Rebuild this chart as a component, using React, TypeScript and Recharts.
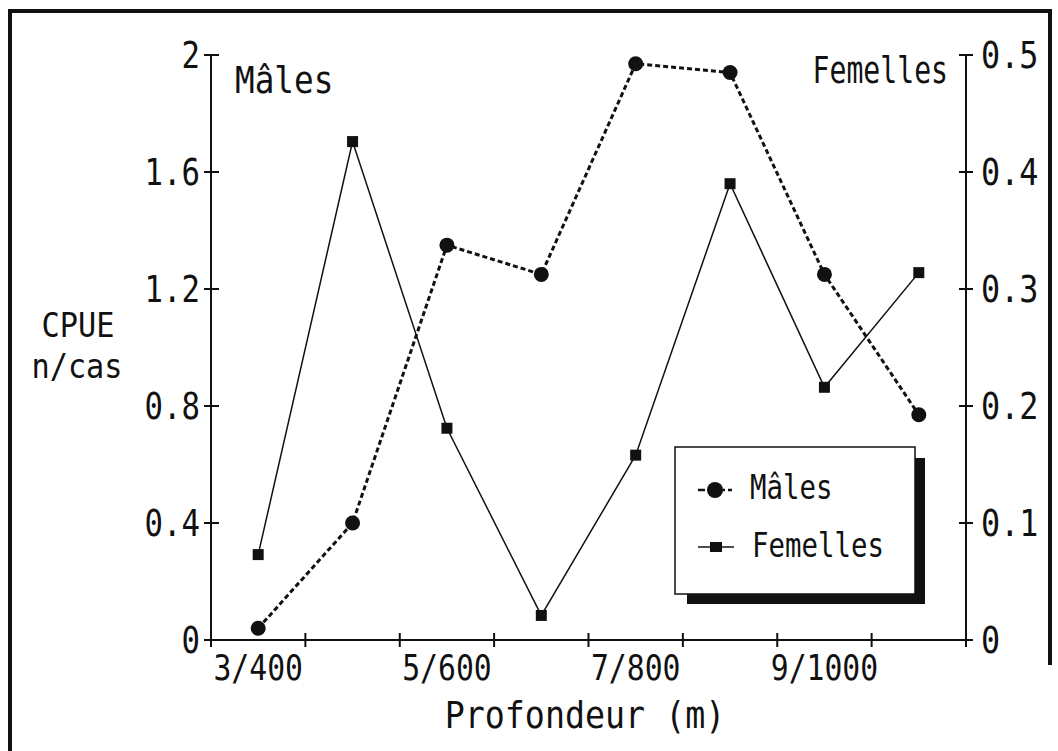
import { LineChart, Line, XAxis, YAxis } from 'recharts'

// depth classes (strate / depth in m)
const CATEGORIES = ['3/400', '4/500', '5/600', '6/700', '7/800', '8/900', '9/1000', '10/1100']
const SHOWN_LABELS = ['3/400', '', '5/600', '', '7/800', '', '9/1000', '']

// CPUE n/cas
const MALES = [0.04, 0.4, 1.35, 1.25, 1.97, 1.94, 1.25, 0.77]
const FEMELLES = [0.073, 0.426, 0.181, 0.021, 0.158, 0.39, 0.216, 0.314]

const LEFT_TICKS = [0, 0.4, 0.8, 1.2, 1.6, 2]
const RIGHT_TICKS = [0, 0.1, 0.2, 0.3, 0.4, 0.5]
const X_BOUNDS = [0, 1, 2, 3, 4, 5, 6, 7, 8]

const W = 1058
const H = 751
const PLOT_LEFT = 211
const PLOT_RIGHT = 966
const PLOT_TOP = 55
const PLOT_BOTTOM = 640
const BAND = (PLOT_RIGHT - PLOT_LEFT) / CATEGORIES.length
const INK = '#111'
const FONT = '"DejaVu Sans Mono", monospace'

const data = CATEGORIES.map((label, i) => ({
  pos: i + 0.5,
  label,
  males: MALES[i],
  femelles: FEMELLES[i],
}))

// plotter-like condensed text
function PlotText({ x, y, size, anchor = 'start', sx = 0.83, children }: {
  x: number; y: number; size: number; anchor?: 'start' | 'middle' | 'end'; sx?: number; children: React.ReactNode
}) {
  return (
    <g transform={`translate(${x},${y}) scale(${sx},1)`}>
      <text x={0} y={0} fontSize={size} textAnchor={anchor} fontFamily={FONT} fill={INK}>
        {children}
      </text>
    </g>
  )
}

function LeftTick({ x, y, payload }: any) {
  return (
    <g>
      <line x1={x - 7} x2={x + 8} y1={y} y2={y} stroke={INK} strokeWidth={2} />
      <PlotText x={x - 11} y={y + 13} size={37} anchor="end">{String(payload.value)}</PlotText>
    </g>
  )
}

function RightTick({ x, y, payload }: any) {
  return (
    <g>
      <line x1={x - 7} x2={x + 7} y1={y} y2={y} stroke={INK} strokeWidth={2} />
      <PlotText x={x + 15} y={y + 13} size={37} sx={0.86}>{String(payload.value)}</PlotText>
    </g>
  )
}

function BottomTick({ x, y, payload }: any) {
  const label = SHOWN_LABELS[payload.value]
  return (
    <g>
      <line x1={x} x2={x} y1={y - 7} y2={y + 7} stroke={INK} strokeWidth={2} />
      {label ? (
        <PlotText x={x + BAND / 2} y={y + 40} size={35} anchor="middle" sx={0.85}>{label}</PlotText>
      ) : null}
    </g>
  )
}

function CircleDot({ cx, cy }: any) {
  return <circle cx={cx} cy={cy} r={7.5} fill={INK} />
}

function SquareDot({ cx, cy }: any) {
  return <rect x={cx - 5.5} y={cy - 5.5} width={11} height={11} fill={INK} />
}

function Overlay() {
  return (
    <svg width={W} height={H} style={{ position: 'absolute', left: 0, top: 0, pointerEvents: 'none' }}>
      {/* outer frame */}
      <path d="M 1050 665 L 1050 11 L 10 11 L 10 751" fill="none" stroke={INK} strokeWidth={4} />

      <PlotText x={235} y={93} size={38} sx={0.86}>Mâles</PlotText>
      <PlotText x={948} y={83} size={37} anchor="end" sx={0.76}>Femelles</PlotText>

      <PlotText x={78} y={337} size={34} anchor="middle" sx={0.89}>CPUE</PlotText>
      <PlotText x={77} y={378} size={34} anchor="middle" sx={0.89}>n/cas</PlotText>

      <PlotText x={585} y={728} size={37} anchor="middle" sx={0.9}>Profondeur (m)</PlotText>

      {/* legend box with drop shadow */}
      <path d="M 915 458 L 925 458 L 925 604 L 687 604 L 687 594 L 915 594 Z" fill={INK} />
      <rect x={675} y={447} width={240} height={147} fill="#fff" stroke={INK} strokeWidth={1.5} />

      <line x1={698} x2={732} y1={490} y2={490} stroke={INK} strokeWidth={2.5} strokeDasharray="7 3" />
      <circle cx={715} cy={490} r={8} fill={INK} />
      <PlotText x={750} y={499} size={33} sx={0.83}>Mâles</PlotText>

      <line x1={698} x2={734} y1={547} y2={547} stroke={INK} strokeWidth={1.5} />
      <rect x={710} y={542} width={12} height={10} fill={INK} />
      <PlotText x={752} y={557} size={33} sx={0.83}>Femelles</PlotText>
    </svg>
  )
}

export default function App() {
  return (
    <div style={{ position: 'absolute', left: 0, top: 0, width: W, height: H, background: '#fff' }}>
      <LineChart
        width={W}
        height={H}
        data={data}
        margin={{ top: PLOT_TOP, right: 0, bottom: 0, left: 0 }}
      >
        <XAxis
          dataKey="pos"
          type="number"
          domain={[0, CATEGORIES.length]}
          ticks={X_BOUNDS}
          interval={0}
          height={H - PLOT_BOTTOM}
          tickSize={0}
          tickMargin={0}
          tickLine={false}
          tick={<BottomTick />}
          axisLine={{ stroke: INK, strokeWidth: 2 }}
        />
        <YAxis
          yAxisId="left"
          domain={[0, 2]}
          ticks={LEFT_TICKS}
          interval={0}
          width={PLOT_LEFT}
          tickSize={0}
          tickMargin={0}
          tickLine={false}
          tick={<LeftTick />}
          axisLine={{ stroke: INK, strokeWidth: 2 }}
        />
        <YAxis
          yAxisId="right"
          orientation="right"
          domain={[0, 0.5]}
          ticks={RIGHT_TICKS}
          interval={0}
          width={W - PLOT_RIGHT}
          tickSize={0}
          tickMargin={0}
          tickLine={false}
          tick={<RightTick />}
          axisLine={{ stroke: INK, strokeWidth: 2 }}
        />
        <Line
          yAxisId="left"
          type="linear"
          dataKey="males"
          name="Mâles"
          stroke={INK}
          strokeWidth={3}
          strokeDasharray="5 3"
          dot={<CircleDot />}
          activeDot={false}
          isAnimationActive={false}
        />
        <Line
          yAxisId="right"
          type="linear"
          dataKey="femelles"
          name="Femelles"
          stroke={INK}
          strokeWidth={1.5}
          dot={<SquareDot />}
          activeDot={false}
          isAnimationActive={false}
        />
      </LineChart>
      <Overlay />
    </div>
  )
}
